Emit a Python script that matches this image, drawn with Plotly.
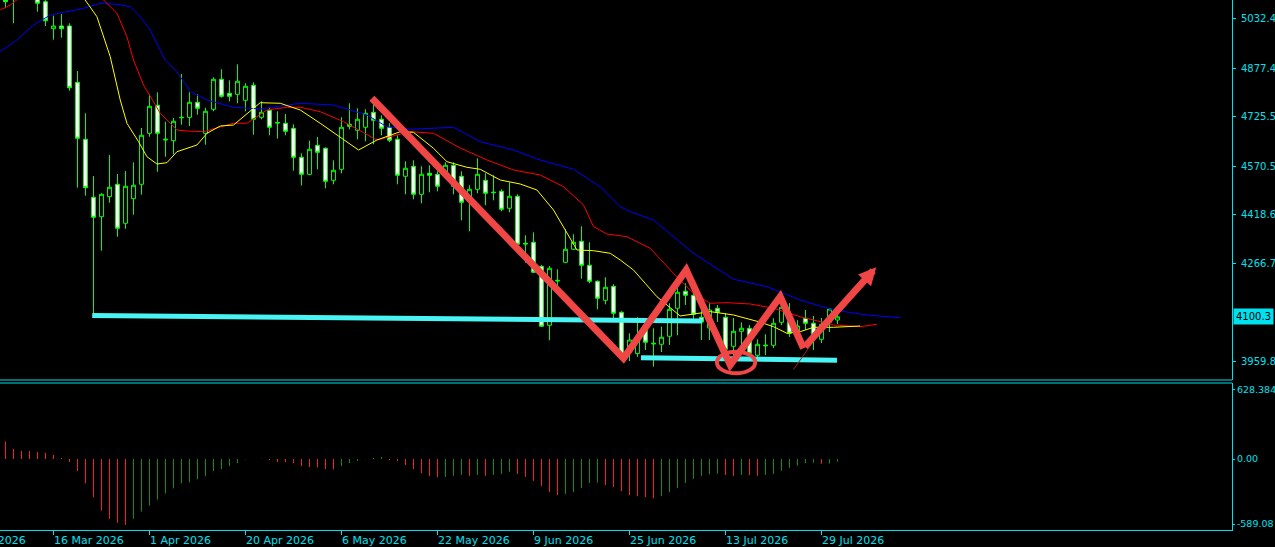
import plotly.graph_objects as go

# ---------------- data (bar index 0..104, daily candles) ----------------
opens = [5115, 5152.7, 5110, 5160, 5121.4, 5084.9, 5000.5, 5009.0, 5009.0, 4833.1,
         4655.0, 4473.8, 4413.1, 4475.9, 4514.4, 4392.5, 4469.4, 4514.4, 4673.7, 4761.2,
         4652.5, 4650.6, 4722.0, 4723.5, 4770.6, 4673.7, 4748.7, 4842.4, 4798.7, 4795.6,
         4776.8, 4823.7, 4723.7, 4745.6, 4707.5, 4704.9, 4689.3, 4598.7, 4545.6, 4636.2,
         4626.8, 4526.9, 4561.2, 4701.8, 4683.1, 4692.5, 4739.3, 4717.5, 4692.5, 4655.0,
         4539.4, 4570.6, 4483.1, 4548.7, 4545.6, 4539.4, 4573.7, 4539.4, 4464.4, 4498.7,
         4526.9, 4490.0, 4492.5, 4439.4, 4476.9, 4330.1, 4333.2, 4258.2, 4073.8, 4214.5,
         4270.6, 4311.3, 4336.3, 4261.3, 4211.3, 4151.9, 4195.7, 4114.5, 3990.4, 3985.5,
         4064.5, 4018.0, 4014.5, 4039.5, 4127.0, 4180.1, 4167.6, 4098.8, 4065.4, 4126.9,
         4098.8, 4008.2, 4055.1, 4064.5, 3980.1, 4012.0, 4011.4, 4083.2, 4085.1, 4046.7,
         4095.7, 4080.1, 4030.2, 4083.2, 4090.4]
highs = [5153, 5184, 5190, 5200, 5137, 5092, 5041.2, 5046.5, 5017.4, 4868.4,
         4736.2, 4540.3, 4486.3, 4605.9, 4546.6, 4555.9, 4583.1, 4690.3, 4795.6, 4801.8,
         4710.0, 4721.5, 4859.0, 4801.8, 4795.6, 4753.7, 4848.7, 4873.7, 4839.3, 4889.3,
         4830.0, 4833.1, 4773.7, 4755.0, 4742.4, 4734.0, 4701.8, 4611.2, 4650.6, 4662.2,
         4630.0, 4589.4, 4723.7, 4767.5, 4751.8, 4748.7, 4767.5, 4730.0, 4705.0, 4667.5,
         4586.2, 4589.4, 4570.6, 4573.7, 4555.0, 4583.1, 4583.1, 4555.0, 4511.3, 4595.6,
         4548.7, 4542.5, 4498.7, 4520.6, 4483.1, 4355.0, 4364.4, 4262.2, 4259.1, 4248.8,
         4373.8, 4358.1, 4383.1, 4333.2, 4214.4, 4223.8, 4202.0, 4117.6, 4048.8, 4098.8,
         4073.8, 4064.5, 4069.5, 4142.6, 4189.4, 4205.1, 4186.3, 4137.3, 4142.6, 4137.3,
         4112.3, 4096.6, 4083.2, 4074.8, 4030.1, 4045.7, 4095.7, 4142.6, 4143.5, 4090.0,
         4121.6, 4102.9, 4096.6, 4127.9, 4121.6]
lows = [5064.3, 5017.4, 5095, 5100, 5053.6, 5009.0, 4966.2, 4972.4, 4806.8, 4503.8,
        4478.7, 4111.3, 4307.0, 4456.9, 4350.6, 4375.6, 4419.4, 4481.9, 4663.1, 4553.7,
        4600.6, 4608.1, 4700.6, 4696.5, 4731.8, 4638.1, 4742.4, 4785.0, 4773.7, 4767.5,
        4742.4, 4669.3, 4717.5, 4667.5, 4656.9, 4667.5, 4556.9, 4510.6, 4542.5, 4561.2,
        4501.9, 4514.4, 4548.7, 4686.2, 4655.0, 4648.7, 4639.4, 4667.5, 4645.6, 4514.4,
        4483.1, 4467.5, 4455.0, 4489.4, 4492.5, 4533.1, 4483.1, 4401.9, 4367.5, 4486.3,
        4448.8, 4464.4, 4430.0, 4426.9, 4324.7, 4269.4, 4237.2, 4068.5, 4027.0, 4173.8,
        4267.5, 4309.1, 4219.4, 4205.1, 4123.8, 4139.4, 4095.7, 3962.3, 3962.3, 3975.0,
        3996.7, 3944.6, 3990.4, 4012.3, 4042.6, 4137.3, 4090.4, 4027.9, 4027.9, 4084.2,
        3990.4, 3974.8, 4012.3, 3977.9, 3971.7, 3981.0, 4002.9, 4074.8, 4037.3, 4030.0,
        4059.2, 3996.7, 4018.3, 4052.9, 4077.9]
closes = [5084.9, 5105.8, 5170, 5130, 5079.9, 5025.5, 5009.0, 5000.5, 4816.2, 4658.1,
          4503.8, 4411.3, 4483.1, 4505.0, 4376.9, 4508.1, 4511.3, 4667.5, 4758.1, 4673.7,
          4655.0, 4711.2, 4723.5, 4770.6, 4751.8, 4742.4, 4842.4, 4789.3, 4789.3, 4836.2,
          4820.6, 4717.5, 4739.3, 4692.5, 4706.0, 4680.0, 4598.7, 4545.6, 4623.7, 4614.3,
          4523.8, 4558.1, 4692.5, 4695.6, 4717.5, 4736.2, 4714.3, 4689.3, 4651.9, 4542.5,
          4564.4, 4483.1, 4545.6, 4542.5, 4508.1, 4573.7, 4508.1, 4458.1, 4498.7, 4545.6,
          4486.3, 4488.4, 4436.3, 4476.9, 4327.0, 4328.0, 4239.5, 4070.7, 4251.9, 4212.5,
          4311.3, 4333.2, 4261.3, 4211.3, 4158.2, 4192.5, 4111.3, 3972.0, 4027.9, 4033.8,
          4020.8, 4016.0, 4036.4, 4123.8, 4177.0, 4167.6, 4108.2, 4084.2, 4121.6, 4114.5,
          3998.8, 4055.1, 4064.5, 3986.3, 4014.5, 4010.0, 4080.1, 4130.1, 4048.8, 4071.7,
          4080.1, 4033.3, 4077.0, 4124.7, 4100.3]
bars = list(range(len(closes)))

# Alligator lines (bar position, price)
jaw_x = [-0.66, 1.43, 3.5, 5.59, 7.68, 9.75, 11.84, 13.93, 15.59, 16.84, 18.09, 19.96, 21.43,
         23.09, 25.18, 28.5, 31.84, 34.75, 36.84, 41.0, 45.18, 47.68, 50.59, 56.0, 59.34,
         63.5, 66.84, 71.0, 74.34, 76.84, 78.09, 81.0, 86.0, 91.0, 95.18, 99.34, 103.5,
         107.68, 111.84]
jaw_y = [4928.7, 4965.2, 5012.1, 5043.3, 5053.6, 5064.3, 5079.9, 5076.8, 5069.3, 5038.0,
         4996.5, 4902.7, 4866.2, 4803.7, 4777.8, 4755.0, 4749.6, 4759.0, 4767.5, 4762.1,
         4730.9, 4694.3, 4686.2, 4692.5, 4647.5, 4621.5, 4590.3, 4561.2, 4506.9, 4444.4,
         4428.8, 4402.8, 4298.8, 4217.6, 4194.4, 4152.9, 4121.6, 4106.0, 4097.6]
teeth_x = [-0.66, 0.59, 4.0, 9.0, 12.25, 13.93, 15.18, 16.0, 17.25, 19.34, 21.43, 22.68,
           24.75, 28.5, 30.18, 32.68, 35.18, 36.84, 39.34, 42.25, 46.43, 50.59, 53.5,
           56.84, 60.18, 63.5, 66.84, 69.75, 72.25, 73.5, 75.18, 77.68, 80.59, 83.5, 86.0,
           88.09, 90.18, 93.09, 96.0, 99.34, 103.5, 106.84, 108.93]
teeth_y = [5059.0, 5074.6, 5140, 5150, 5090.2, 5048.7, 4975.5, 4902.7, 4824.6, 4736.2,
           4684.0, 4680.9, 4678.7, 4705.0, 4705.0, 4746.5, 4755.0, 4755.0, 4741.2, 4710.0,
           4652.8, 4678.7, 4673.7, 4627.8, 4590.3, 4559.1, 4543.4, 4506.9, 4449.7, 4382.0,
           4359.1, 4350.7, 4314.4, 4236.3, 4173.8, 4142.6, 4144.5, 4140.4, 4126.9, 4100.7,
           4074.8, 4069.5, 4077.0]
lips_x = [6.0, 9.96, 11.43, 13.09, 14.34, 15.18, 16.63, 17.68, 18.93, 20.18, 21.43, 23.93,
          25.18, 26.84, 28.5, 30.18, 31.84, 34.34, 36.84, 39.34, 41.43, 44.13, 46.43,
          49.34, 51.0, 53.5, 55.18, 57.68, 59.34, 61.84, 64.34, 66.43, 68.5, 70.18, 71.43,
          73.5, 75.59, 76.84, 78.5, 79.96, 81.43, 84.33, 88.09, 91.0, 94.13, 96.0, 97.68,
          99.34, 101.0, 103.5, 106.84]
lips_y = [5160, 5090.2, 5038.0, 4913.1, 4777.8, 4705.0, 4647.5, 4600.6, 4577.8, 4581.9,
          4616.2, 4637.2, 4673.7, 4696.5, 4699.6, 4736.2, 4769.3, 4767.5, 4746.5, 4705.0,
          4668.4, 4621.5, 4652.8, 4678.7, 4676.8, 4626.8, 4585.0, 4567.5, 4561.2, 4527.8,
          4515.3, 4496.6, 4434.1, 4361.3, 4309.1, 4306.9, 4298.8, 4277.9, 4246.6, 4205.0,
          4163.2, 4103.0, 4116.5, 4106.1, 4085.1, 4069.5, 4048.8, 4053.9, 4067.6, 4067.6,
          4071.6]

# Awesome Oscillator values
ao = [159, 92, 73, 72, 64, 55, 37, 9, -28, -110,
      -220, -349, -468, -542, -578, -597, -542, -477, -422, -367,
      -312, -266, -220, -211, -184, -156, -110, -92, -64, -37,
      -3, 0, 2, -9, -28, -30, -37, -64, -73, -76,
      -92, -95, -64, -37, -18, -2, 9, 18, -9, -18,
      -55, -92, -129, -156, -165, -162, -153, -144, -153, -144,
      -153, -144, -135, -116, -135, -162, -199, -245, -300, -327,
      -318, -300, -263, -217, -214, -236, -254, -291, -327, -337,
      -346, -355, -337, -300, -263, -217, -180, -153, -138, -133,
      -144, -153, -144, -146, -153, -144, -135, -107, -80, -61,
      -37, -33, -43, -40, -24]

# price-axis and date-axis labels
price_ticks = [5032.4, 4877.4, 4725.5, 4570.5, 4418.6, 4266.7, 3959.8]
last_price = 4100.3
ao_ticks = [628.384, 0.0, -589.08]
ao_tick_text = ["628.384", "0.00", "-589.08"]
date_bars = [6, 18, 30, 42, 54, 66, 78, 90, 102]
date_text = ["16 Mar 2026", "1 Apr 2026", "20 Apr 2026", "6 May 2026", "22 May 2026",
             "9 Jun 2026", "25 Jun 2026", "13 Jul 2026", "29 Jul 2026"]
first_date_text = "6 Mar 2026"

# hand-drawn analysis objects (bar position, price)
zig_x = [45.8, 77.25, 85.09, 90.59, 96.84, 99.75]
zig_y = [4783.1, 3970.7, 4246.6, 3949.8, 4163.2, 4002.0]
arrow_tip = (108.84, 4255.0)
support_upper = [(10.84, 4104.5), (87.09, 4087.3)]
support_lower = [(79.43, 3972.6), (103.93, 3964.5)]
ellipse_box = (88.93, 3923.9, 93.71, 3991.4)
thin_line = [(98.5, 3935.7), (100.84, 4018.5)]

# ---------------- styling ----------------
AX = "#00e0ee"
LIME = "#00ff00"
ZIG = "#f04646"
CYAN = "#48f4f4"
FONT = "DejaVu Sans"

fig = go.Figure()

fig.add_trace(go.Candlestick(
    x=bars, open=opens, high=highs, low=lows, close=closes,
    increasing=dict(line=dict(color=LIME, width=1), fillcolor="#000000"),
    decreasing=dict(line=dict(color=LIME, width=1), fillcolor="#ffffff"),
    whiskerwidth=0, xaxis="x", yaxis="y", hoverinfo="skip", showlegend=False))

for xs, ys, col in [(jaw_x, jaw_y, "#0000ff"), (teeth_x, teeth_y, "#ff0000"),
                    (lips_x, lips_y, "#ffff00")]:
    fig.add_trace(go.Scatter(x=xs, y=ys, mode="lines", line=dict(color=col, width=1),
                             xaxis="x", yaxis="y", hoverinfo="skip", showlegend=False))

# AO histogram as 1px vertical lines, coloured by direction
gx, gy, rx, ry = [], [], [], []
for i, v in enumerate(ao):
    up = i > 0 and v > ao[i - 1]
    tx, ty = (gx, gy) if up else (rx, ry)
    tx += [i, i, None]
    ty += [0, v, None]
fig.add_trace(go.Scatter(x=rx, y=ry, mode="lines", line=dict(color="#ff1a1a", width=1),
                         xaxis="x", yaxis="y2", hoverinfo="skip", showlegend=False))
fig.add_trace(go.Scatter(x=gx, y=gy, mode="lines", line=dict(color="#009a00", width=1),
                         xaxis="x", yaxis="y2", hoverinfo="skip", showlegend=False))

# cyan support lines
for seg in (support_upper, support_lower):
    fig.add_trace(go.Scatter(x=[p[0] for p in seg], y=[p[1] for p in seg], mode="lines",
                             line=dict(color=CYAN, width=5), xaxis="x", yaxis="y",
                             hoverinfo="skip", showlegend=False))
# thin dark red line
fig.add_trace(go.Scatter(x=[p[0] for p in thin_line], y=[p[1] for p in thin_line],
                         mode="lines", line=dict(color="#a02020", width=1),
                         xaxis="x", yaxis="y", hoverinfo="skip", showlegend=False))
# red zigzag
fig.add_trace(go.Scatter(x=zig_x, y=zig_y, mode="lines", line=dict(color=ZIG, width=7),
                         xaxis="x", yaxis="y", hoverinfo="skip", showlegend=False))

H_PLOT = 530.0
main_bottom = 150 / H_PLOT
sub_top = 147 / H_PLOT

annotations = [
    dict(x=arrow_tip[0], y=arrow_tip[1], ax=zig_x[-1], ay=zig_y[-1], xref="x", yref="y",
         axref="x", ayref="y", showarrow=True, arrowhead=2, arrowsize=0.5,
         arrowwidth=7, arrowcolor=ZIG, text=""),
    dict(x=1, xref="paper", y=last_price, yref="y", text=str(last_price),
         showarrow=False, xanchor="left", yanchor="middle", bgcolor=AX,
         font=dict(family=FONT, size=10, color="#000000"), borderpad=2, xshift=1),
]
for b, t in zip(date_bars, date_text):
    annotations.append(dict(x=b, xref="x", y=0, yref="paper", text=t, showarrow=False,
                            xanchor="left", yanchor="top", yshift=-3, xshift=-1,
                            font=dict(family=FONT, size=11, color=AX), borderpad=0))
annotations.append(dict(x=0, xref="paper", y=0, yref="paper", text=first_date_text,
                        showarrow=False, xanchor="right", yanchor="top", yshift=-3,
                        xshift=27, font=dict(family=FONT, size=11, color=AX), borderpad=0))

shapes = [
    dict(type="circle", xref="x", yref="y", x0=ellipse_box[0], y0=ellipse_box[1],
         x1=ellipse_box[2], y1=ellipse_box[3], line=dict(color=ZIG, width=4)),
    dict(type="line", xref="paper", yref="paper", x0=0, x1=1, y0=main_bottom,
         y1=main_bottom, line=dict(color=AX, width=1)),
    dict(type="line", xref="paper", yref="paper", x0=0, x1=1, y0=sub_top, y1=sub_top,
         line=dict(color=AX, width=1)),
]

fig.update_layout(
    width=1275, height=547,
    margin=dict(l=0, r=43, t=0, b=17, autoexpand=False),
    paper_bgcolor="#000000", plot_bgcolor="#000000",
    showlegend=False, hovermode=False,
    annotations=annotations, shapes=shapes,
    xaxis=dict(range=[-0.6875, 153.3125], anchor="y2", showgrid=False, zeroline=False,
               showline=True, linecolor=AX, linewidth=1, ticks="outside", ticklen=4,
               tickcolor=AX, tickvals=date_bars, showticklabels=False, automargin=False,
               rangeslider=dict(visible=False), fixedrange=True),
    yaxis=dict(domain=[main_bottom, 1], range=[3902.9, 5090.2], side="right",
               showgrid=False, zeroline=False, showline=True, linecolor=AX, linewidth=1,
               ticks="outside", ticklen=3, tickcolor=AX, tickvals=price_ticks,
               ticktext=[f"{v:.1f}" for v in price_ticks], automargin=False,
               tickfont=dict(family=FONT, size=10, color=AX), ticklabelstandoff=3,
               fixedrange=True),
    yaxis2=dict(domain=[0, sub_top], range=[-643.3, 688.6], side="right", anchor="x",
                showgrid=False, zeroline=False, showline=True, linecolor=AX, linewidth=1,
                ticks="outside", ticklen=2, tickcolor=AX, tickvals=ao_ticks,
                ticktext=ao_tick_text, tickfont=dict(family=FONT, size=9.5, color=AX),
                ticklabelstandoff=0, automargin=False, fixedrange=True),
)

fig.write_html("out.html", config={"displayModeBar": False},
               post_script="document.body.style.margin='0';")
